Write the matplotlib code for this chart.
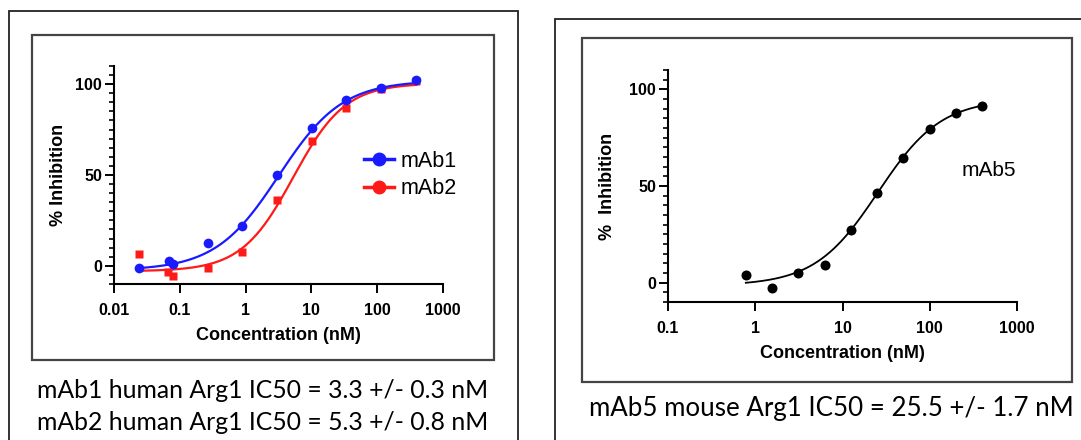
import numpy as np
import matplotlib
matplotlib.use("Agg")
import matplotlib.pyplot as plt
from matplotlib.patches import Rectangle
from matplotlib.lines import Line2D
from matplotlib.ticker import FixedLocator, NullLocator, FixedFormatter

plt.rcParams['font.family'] = ['Liberation Sans', 'DejaVu Sans']

W, H = 1081, 440

# --- data ---
mab1_conc = [0.024, 0.0686, 0.080, 0.265, 0.89, 3.0, 10.2, 33.6, 114, 389]
mab1_inh = [-1.3, 2.9, 1.1, 12.5, 21.7, 49.9, 76.0, 91.3, 97.8, 102.3]
mab2_conc = [0.024, 0.0669, 0.080, 0.265, 0.89, 3.0, 10.2, 33.6, 114, 389]
mab2_inh = [6.6, -3.5, -5.5, -1.3, 7.6, 36.0, 68.7, 87.0, 97.3, 101.5]
mab5_conc = [0.78, 1.56, 3.125, 6.25, 12.5, 25, 50, 100, 200, 400]
mab5_inh = [3.8, -2.8, 5.0, 9.0, 27.1, 46.5, 64.4, 79.6, 87.9, 91.2]

# 4PL fit parameters (bottom, top, IC50, hill) estimated from the curves
fit_mab1 = (-2.5, 102.0, 3.2, 0.9)
fit_mab2 = (-3.0, 100.5, 5.3, 1.1)
fit_mab5 = (-1.5, 95.0, 25.5, 1.2)

left_ticks = [0.01, 0.1, 1, 10, 100, 1000]
left_ticklabels = ['0.01', '0.1', '1', '10', '100', '1000']
right_ticks = [0.1, 1, 10, 100, 1000]
right_ticklabels = ['0.1', '1', '10', '100', '1000']

caption_left = ['mAb1 human Arg1 IC50 = 3.3 +/- 0.3 nM',
                'mAb2 human Arg1 IC50 = 5.3 +/- 0.8 nM']
caption_right = 'mAb5 mouse Arg1 IC50 = 25.5 +/- 1.7 nM'


def fourpl(x, p):
    bottom, top, ic50, hill = p
    return bottom + (top - bottom) / (1 + (ic50 / x) ** hill)


def fx(px):
    return px / W


def fy(py):
    return 1 - py / H


def rect(ax_l, ax_t, ax_r, ax_b):
    return [fx(ax_l), fy(ax_b), fx(ax_r) - fx(ax_l), fy(ax_t) - fy(ax_b)]


def box(fig, l, t, r, b, lw, color):
    fig.patches.append(Rectangle((fx(l), fy(b)), fx(r) - fx(l), fy(t) - fy(b),
                                 transform=fig.transFigure, fill=False,
                                 lw=lw, edgecolor=color, zorder=0))


def style_axes(ax, ticks, labels, xlim):
    ax.set_xscale('log')
    ax.set_xlim(*xlim)
    ax.set_ylim(-10, 110)
    for s in ['top', 'right']:
        ax.spines[s].set_visible(False)
    for s in ['left', 'bottom']:
        ax.spines[s].set_linewidth(1.5)
    ax.xaxis.set_major_locator(FixedLocator(ticks))
    ax.xaxis.set_major_formatter(FixedFormatter(labels))
    ax.xaxis.set_minor_locator(NullLocator())
    ax.yaxis.set_major_locator(FixedLocator([0, 50, 100]))
    ax.yaxis.set_minor_locator(FixedLocator([v for v in range(-10, 111, 5) if v % 50]))
    ax.tick_params(axis='x', which='major', length=6.5, width=1.4, pad=7,
                   labelsize=11.5)
    ax.tick_params(axis='y', which='major', length=6.5, width=1.4, pad=2,
                   labelsize=11.5)
    ax.tick_params(axis='y', which='minor', length=3.5, width=1.2)
    for lab in ax.get_xticklabels() + ax.get_yticklabels():
        lab.set_fontweight('bold')
    ax.patch.set_alpha(0)


fig = plt.figure(figsize=(W / 100, H / 100), dpi=100)

# frames
box(fig, 9, 11, 518, 460, 1.3, '#222222')
box(fig, 32, 35, 494, 360, 1.6, '#444444')
box(fig, 555, 19, 1100, 460, 1.3, '#222222')
box(fig, 582, 38, 1072, 382, 1.6, '#444444')

# ---- left panel ----
ax1 = fig.add_axes(rect(114, 66, 443, 284))
style_axes(ax1, left_ticks, left_ticklabels, (0.01, 1000))
xc = np.logspace(np.log10(mab1_conc[0]), np.log10(mab1_conc[-1]), 300)
ax1.plot(xc, fourpl(xc, fit_mab2), color='#ff1a1a', lw=1.6)
ax1.plot(xc, fourpl(xc, fit_mab1), color='#1a1aff', lw=1.6)
ax1.plot(mab2_conc, mab2_inh, 's', color='#ff1a1a', ms=6.3, mec='none')
ax1.plot(mab1_conc, mab1_inh, 'o', color='#1a1aff', ms=7, mec='none')
ax1.set_xlabel('Concentration (nM)', fontsize=13, fontweight='bold', labelpad=7)
ax1.set_ylabel('% Inhibition', fontsize=13, fontweight='bold', labelpad=6)

handles = [Line2D([], [], color='#1a1aff', marker='o', lw=2.5, ms=9),
           Line2D([], [], color='#ff1a1a', marker='o', lw=2.5, ms=9)]
ax1.legend(handles, ['mAb1', 'mAb2'], loc='upper left',
           bbox_to_anchor=(fx(364), fy(151)), bbox_transform=fig.transFigure,
           frameon=False, fontsize=15.5, handlelength=1.4, handletextpad=0.3,
           labelspacing=0.3, borderpad=0, borderaxespad=0)

# ---- right panel ----
ax2 = fig.add_axes(rect(668, 70, 1017, 302))
style_axes(ax2, right_ticks, right_ticklabels, (0.1, 1000))
xc5 = np.logspace(np.log10(mab5_conc[0]), np.log10(mab5_conc[-1]), 300)
ax2.plot(xc5, fourpl(xc5, fit_mab5), color='black', lw=1.3)
ax2.plot(mab5_conc, mab5_inh, 'o', color='black', ms=7.2, mec='none')
ax2.set_xlabel('Concentration (nM)', fontsize=13, fontweight='bold', labelpad=7)
ax2.set_ylabel('%  Inhibition', fontsize=13, fontweight='bold', labelpad=10)
fig.text(fx(962), fy(170), 'mAb5', fontsize=15, va='center', ha='left')

# captions
cap_font = ['Lato', 'DejaVu Sans']
fig.text(fx(263), fy(390), caption_left[0], fontsize=17.8, family=cap_font,
         ha='center', va='center')
fig.text(fx(263), fy(422), caption_left[1], fontsize=17.8, family=cap_font,
         ha='center', va='center')
fig.text(fx(831), fy(408), caption_right, fontsize=18.6, family=cap_font,
         ha='center', va='center')

fig.savefig('out.png', dpi=100)
